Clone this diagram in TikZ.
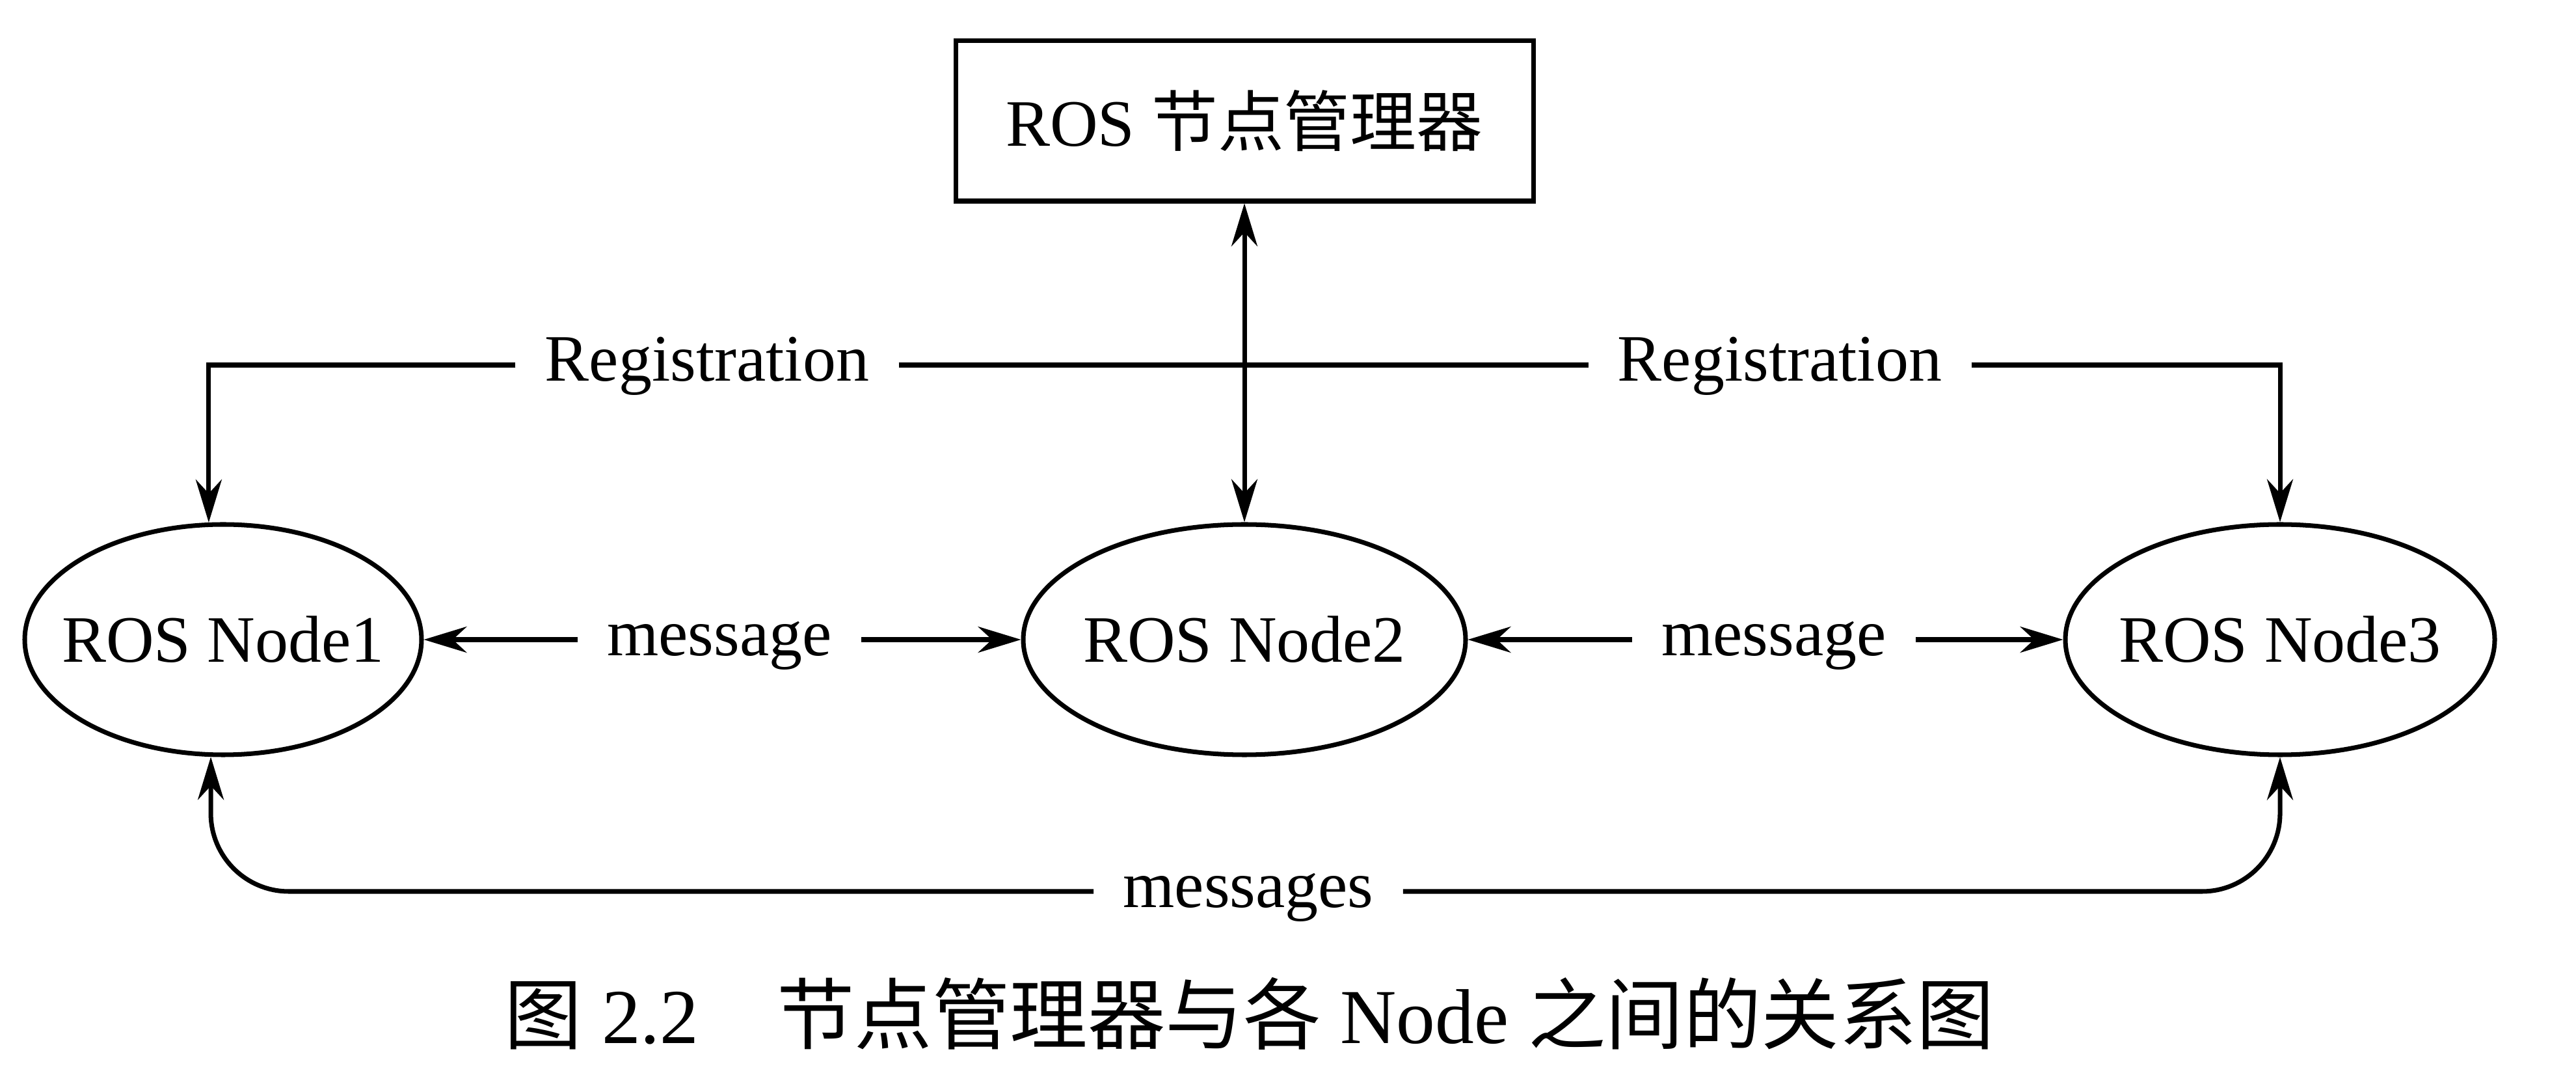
\documentclass[tikz,border=0pt]{standalone}
\usepackage{fontspec}
\setmainfont{Liberation Serif}
\newfontfamily\cjk{Noto Sans CJK SC}
\usetikzlibrary{arrows.meta,shapes.geometric}

\tikzset{
  rosnode/.style={draw, ellipse, line width=1pt, inner xsep=-0.6cm, inner ysep=0pt, minimum height=1.77cm},
  mgrbox/.style={draw, rectangle, line width=1pt, minimum width=4.44cm, minimum height=1.23cm},
  lbl/.style={inner xsep=0.22cm, inner ysep=0pt, text height=1.5ex, text depth=0pt},
  link/.style={line width=1pt, -{Stealth[length=3.3mm,width=2mm]}},
  both/.style={line width=1pt, {Stealth[length=3.3mm,width=2mm]}-{Stealth[length=3.3mm,width=2mm]}},
}

\begin{document}
\begin{tikzpicture}[font=\fontsize{14.5pt}{17pt}\selectfont]
  \useasboundingbox (0,0) rectangle (19.8,8.34);
  % manager and the three nodes
  \node[mgrbox] (mgr) at (9.565,7.41) {ROS {\cjk 节点管理器}};
  \node[rosnode, minimum width=3.05cm] (n1) at (1.715,3.425) {ROS Node1};
  \node[rosnode, minimum width=3.40cm] (n2) at (9.565,3.425) {ROS Node2};
  \node[rosnode, minimum width=3.30cm] (n3) at (17.525,3.425) {ROS Node3};
  % labels sitting in the lines
  \node[lbl] (reg1) at (5.435,5.535) {Registration};
  \node[lbl] (reg2) at (13.68,5.535) {Registration};
  \node[lbl] (msg12) at (5.53,3.425) {message};
  \node[lbl] (msg23) at (13.635,3.425) {message};
  \node[lbl] (msgs) at (9.595,1.49) {messages};
  % registration
  \draw[link] (reg1.west) -| (n1.97);
  \draw[line width=1pt] (reg1.east) -- (reg2.west);
  \draw[link] (reg2.east) -| (n3.north);
  \draw[both] (mgr.south) -- (n2.north);
  % messages between neighbours
  \draw[link] (msg12.west) -- (n1.east);
  \draw[link] (msg12.east) -- (n2.west);
  \draw[link] (msg23.west) -- (n2.east);
  \draw[link] (msg23.east) -- (n3.west);
  % messages along the bottom
  \draw[link, rounded corners=0.6cm] (msgs.west) -| (n1.264);
  \draw[link, rounded corners=0.6cm] (msgs.east) -| (n3.south);
  % caption
  \node (cap) at (9.605,0.55) {\fontsize{17pt}{20pt}\selectfont{\cjk 图}\ 2.2\quad{\cjk 节点管理器与各} Node {\cjk 之间的关系图}};
\end{tikzpicture}
\end{document}
